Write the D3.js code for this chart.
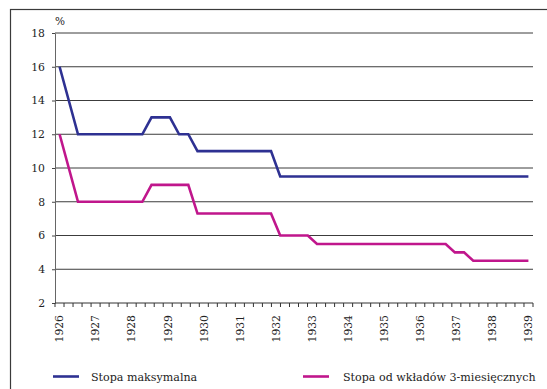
<!DOCTYPE html>
<html>
<head>
<meta charset="utf-8">
<script src="https://cdn.jsdelivr.net/npm/d3@7/dist/d3.min.js"></script>
<style>
  html, body { margin: 0; padding: 0; background: #fff; }
  svg { display: block; }
  text { font-family: "DejaVu Serif", "Liberation Serif", serif; fill: #222; }
</style>
</head>
<body>
<svg id="chart" width="547" height="389"></svg>
<script>
// Year labels on the category axis
const yearLabels = ["1926", "1927", "1928", "1929", "1930", "1931", "1932",
                    "1933", "1934", "1935", "1936", "1937", "1938", "1939"];

// Quarterly observations, 1926 Q1 – 1938 Q4 (%)
const maxRate = [
  16, 14, 12, 12, 12, 12, 12, 12, 12, 12, 13, 13, 13, 12, 12, 11,
  11, 11, 11, 11, 11, 11, 11, 11, 9.5, 9.5, 9.5, 9.5, 9.5, 9.5, 9.5, 9.5,
  9.5, 9.5, 9.5, 9.5, 9.5, 9.5, 9.5, 9.5, 9.5, 9.5, 9.5, 9.5, 9.5, 9.5, 9.5, 9.5,
  9.5, 9.5, 9.5, 9.5
];
const deposit3m = [
  12, 10, 8, 8, 8, 8, 8, 8, 8, 8, 9, 9, 9, 9, 9, 7.3,
  7.3, 7.3, 7.3, 7.3, 7.3, 7.3, 7.3, 7.3, 6, 6, 6, 6, 5.5, 5.5, 5.5, 5.5,
  5.5, 5.5, 5.5, 5.5, 5.5, 5.5, 5.5, 5.5, 5.5, 5.5, 5.5, 5, 5, 4.5, 4.5, 4.5,
  4.5, 4.5, 4.5, 4.5
];

const yTicks = [2, 4, 6, 8, 10, 12, 14, 16, 18];

const seriesNames = ["Stopa maksymalna", "Stopa od wkładów 3-miesięcznych"];
const seriesColors = ["#2e3192", "#c0168c"];

// Periods for the observations and for the axis slots
const periods = [];
yearLabels.slice(0, -1).forEach(y => { for (let q = 1; q <= 4; q++) periods.push(y + " Q" + q); });
const axisSlots = periods.concat([yearLabels[yearLabels.length - 1] + " Q1"]);

const svg = d3.select("#chart");

// Outer frame
svg.append("rect")
  .attr("x", 10.5).attr("y", 9.5)
  .attr("width", 560).attr("height", 400)
  .attr("fill", "none").attr("stroke", "#3a3a3a").attr("stroke-width", 1.2);

const plotLeft = 55, plotRight = 533, plotTop = 33, plotBottom = 303;

const y = d3.scaleLinear().domain([2, 18]).range([plotBottom, plotTop]);
const xSlot = d3.scaleBand().domain(axisSlots).range([plotLeft, plotRight]);
const xLine = d3.scalePoint().domain(periods).range([plotLeft, plotRight]).padding(0.5);

// Horizontal gridlines
svg.append("g").selectAll("line")
  .data(yTicks.filter(v => v > 2))
  .join("line")
  .attr("x1", plotLeft).attr("x2", plotRight)
  .attr("y1", d => y(d)).attr("y2", d => y(d))
  .attr("stroke", "#3c3c3c").attr("stroke-width", 1);

// Y axis
const yAxis = d3.axisLeft(y).tickValues(yTicks).tickSizeInner(3).tickSizeOuter(0).tickPadding(7);
const gy = svg.append("g").attr("transform", `translate(${plotLeft},0)`).call(yAxis);
gy.select(".domain").attr("stroke", "#666");
gy.selectAll(".tick line").attr("stroke", "#444");
gy.selectAll("text").attr("font-size", "10.8px").attr("font-family", "DejaVu Serif").attr("fill", "#222");

// Unit label
svg.append("text").attr("x", 55).attr("y", 25).attr("font-size", "10.5px").text("%");

// X axis
const gx = svg.append("g");
gx.append("line")
  .attr("x1", plotLeft).attr("x2", plotRight)
  .attr("y1", plotBottom).attr("y2", plotBottom)
  .attr("stroke", "#333");
const tickXs = axisSlots.map(s => xSlot(s)).concat([plotRight]);
gx.selectAll("line.tick")
  .data(tickXs)
  .join("line").attr("class", "tick")
  .attr("x1", d => d).attr("x2", d => d)
  .attr("y1", plotBottom).attr("y2", plotBottom + 4)
  .attr("stroke", "#333");
gx.selectAll("text")
  .data(yearLabels)
  .join("text")
  .attr("transform", d => `translate(${xSlot(d + " Q1") + xSlot.bandwidth() / 2},${plotBottom + 12}) rotate(-90)`)
  .attr("text-anchor", "end")
  .attr("dy", "0.35em")
  .attr("font-size", "10.8px")
  .text(d => d);

// Series lines
const line = d3.line()
  .x((d, i) => xLine(periods[i]))
  .y(d => y(d));

[maxRate, deposit3m].forEach((values, k) => {
  svg.append("path")
    .datum(values)
    .attr("d", line)
    .attr("fill", "none")
    .attr("stroke", seriesColors[k])
    .attr("stroke-width", 2.6)
    .attr("stroke-linejoin", "miter");
});

// Legend
const legendItems = [
  { x1: 53, x2: 79, tx: 91 },
  { x1: 303, x2: 329, tx: 343 }
];
const lg = svg.append("g");
legendItems.forEach((p, k) => {
  lg.append("line")
    .attr("x1", p.x1).attr("x2", p.x2)
    .attr("y1", 376.5).attr("y2", 376.5)
    .attr("stroke", seriesColors[k]).attr("stroke-width", 2.6);
  lg.append("text")
    .attr("x", p.tx).attr("y", 380.5)
    .attr("font-size", "11.1px")
    .text(seriesNames[k]);
});
</script>
</body>
</html>
